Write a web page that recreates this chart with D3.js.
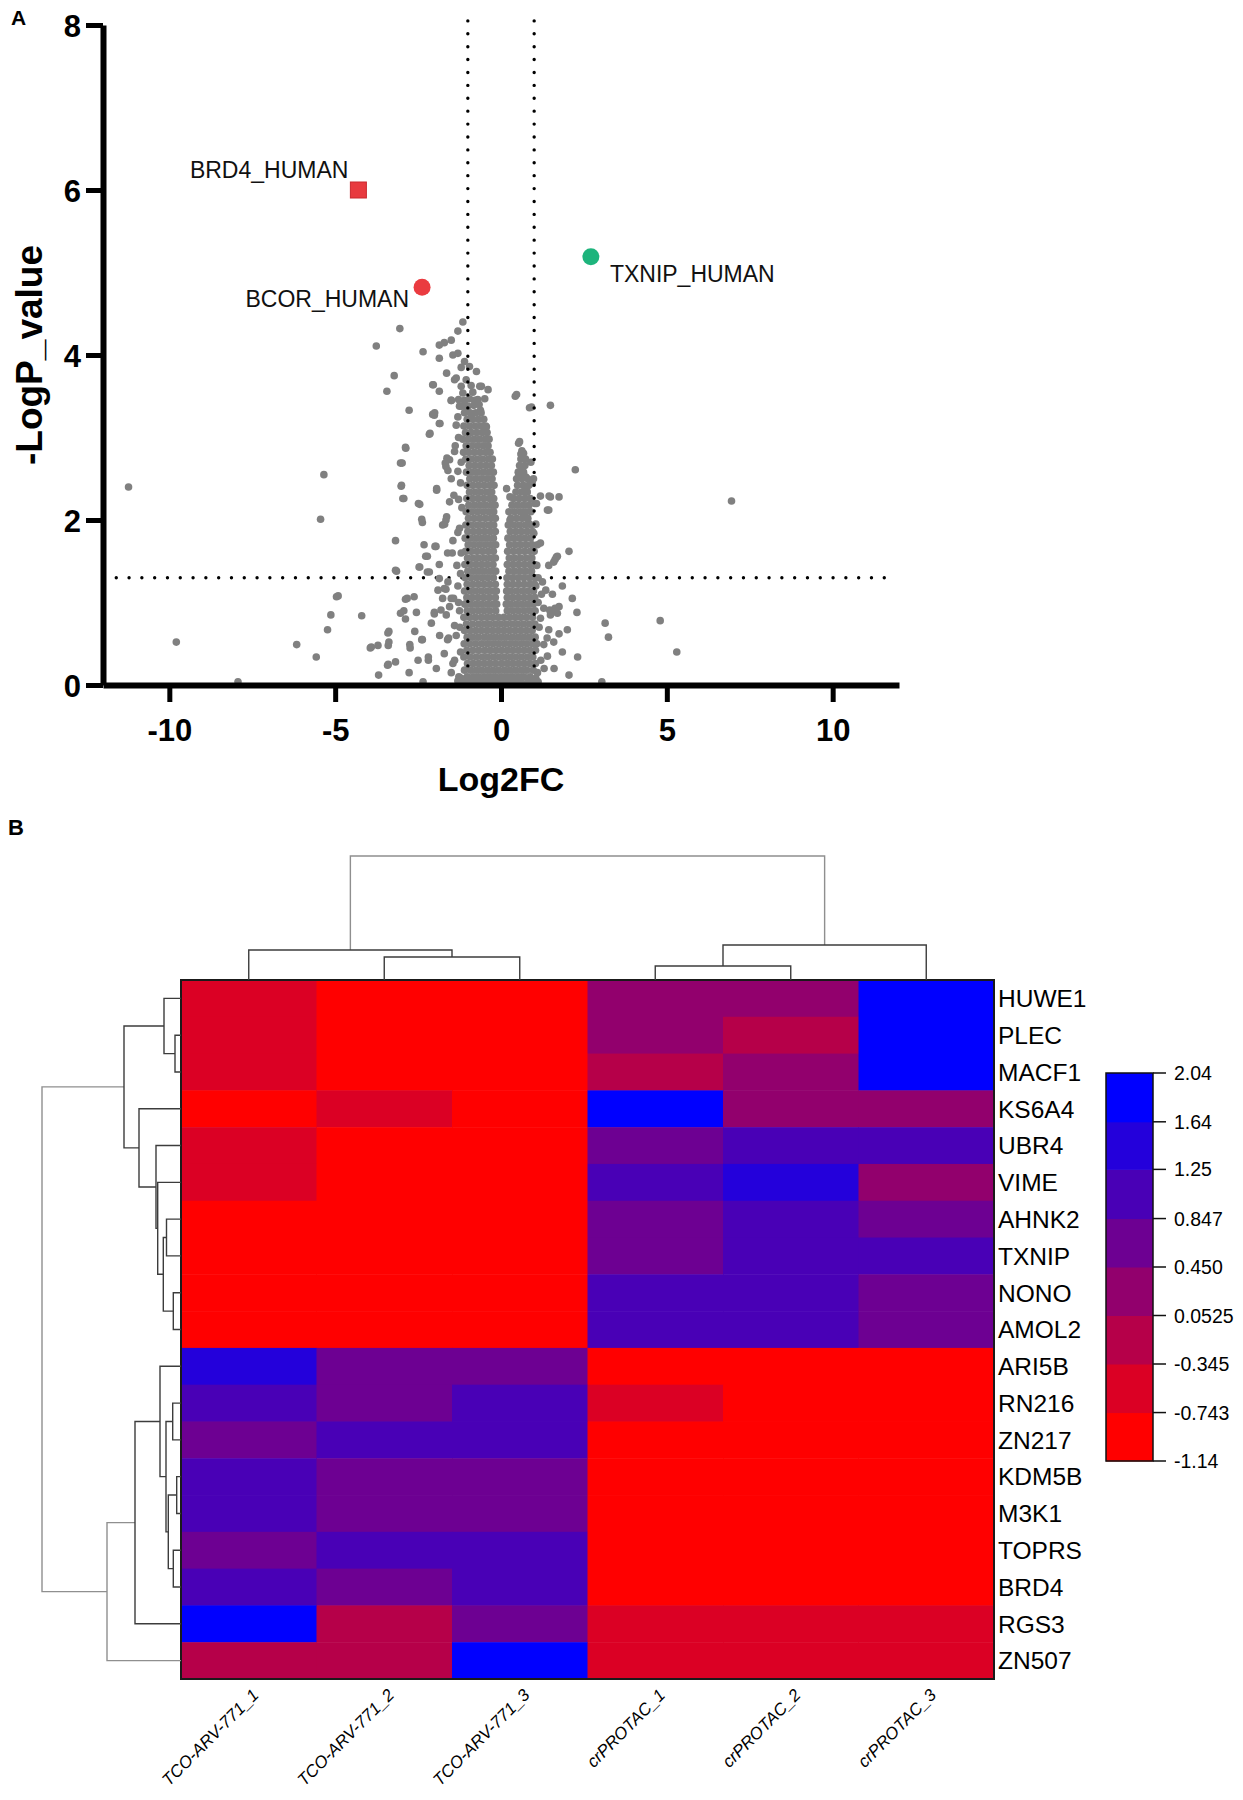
<!DOCTYPE html>
<html><head><meta charset="utf-8">
<script src="https://cdn.jsdelivr.net/npm/d3@7"></script>
<style>
body{margin:0;background:#fff}
svg{display:block}
text{font-family:Arial,"Liberation Sans",sans-serif}
</style>
</head><body>
<svg id="chart" width="1243" height="1800"></svg>
<script>
// ---------------- Volcano plot data ----------------
const xTicks = [-10, -5, 0, 5, 10];
const yTicks = [0, 2, 4, 6, 8];
const fcThresholds = [-1, 1];
const pThreshold = 1.3;

const highlighted = [
  {name: "BRD4_HUMAN", fc: -4.30, p: 6.00, shape: "square", color: "#e83a3f", side: "left"},
  {name: "BCOR_HUMAN", fc: -2.38, p: 4.82, shape: "circle", color: "#ea3b40", side: "leftBelow"},
  {name: "TXNIP_HUMAN", fc: 2.71, p: 5.19, shape: "circle", color: "#1db47c", side: "right"}
];

// scattered proteins [log2FC, -logP]
const scatterPoints = [
 [-11.23,2.40],[-9.79,0.52],[-7.93,0.04],[-5.34,2.55],[-5.44,2.01],[-6.16,0.49],[-5.57,0.34],[-4.96,1.07],[-5.13,0.85],[-5.23,0.67],[-4.20,0.84],
 [-3.44,3.56],[-2.77,3.33],[-2.87,2.87],[-2.98,2.69],[-3.01,2.41],[-2.96,2.26],[-3.18,1.75],[-3.15,1.38],[-2.88,1.04],[-2.62,1.07],[-2.93,0.90],[-2.88,0.80],[-2.55,0.88],[-3.41,0.63],[-3.38,0.52],[-3.94,0.45],[-3.71,0.48],[-3.42,0.24],[-3.18,0.28],[-3.69,0.12],[-2.75,0.49],[-2.74,0.45],[-2.39,0.55],[-2.19,0.34],[-2.77,0.15],[-2.35,0.04],
 [-2.45,2.19],[-2.39,2.01],[-2.37,1.97],[-2.32,1.70],[-1.99,1.68],[-2.22,1.56],[-2.45,1.43],[-2.16,1.37],[-1.86,1.46],[-1.86,1.29],
 [-2.06,3.28],[-1.84,3.17],[-2.14,3.05],[-1.86,3.56],[-2.06,3.64],[-1.50,3.45],[-1.94,2.38],[-1.55,2.22],[-1.64,2.04],[-1.76,1.94],[-1.66,2.65],[-1.55,2.73],[-1.47,1.60],[-1.66,1.16],[-1.76,1.05],[-1.81,0.91],[-2.01,0.88],[-1.58,0.57],[-1.71,0.38],[-1.45,0.26],[-1.27,0.10],
 [-1.15,4.40],[-1.30,4.29],[-1.50,4.18],[-1.71,4.15],[-1.86,4.12],[-1.30,4.02],[-1.10,3.92],[-1.86,3.96],[-2.35,4.04],[-3.05,4.32],[-3.76,4.11],[-3.22,3.75],
 [-1.64,3.78],[-1.35,3.72],[-1.05,3.70],[-0.74,3.80],[-0.59,3.62],[-0.39,3.58],[-0.49,3.47],[-0.79,3.45],[-1.10,3.45],[-1.50,3.45],[-2.04,3.64],[-0.64,3.62],
 [-1.05,3.37],[-0.89,3.25],[-1.35,3.15],[-0.44,3.13],[-2.01,3.27],[-1.86,3.17],[-2.16,3.04],[-1.25,3.38],[-0.62,3.33],
 [0.43,3.50],[0.86,3.36],[1.49,3.39],[0.53,2.93],[0.68,2.81],[0.63,2.65],[0.56,2.52],[0.94,2.45],[0.78,2.34],[0.17,2.38],[0.27,2.28],[1.19,2.29],[1.49,2.28],[1.75,2.28],[1.44,2.12],[1.07,2.20],[2.24,2.61],[0.27,2.00],[0.68,2.04],[0.83,1.96],[0.99,1.84],[1.19,1.72],[2.05,1.62],[1.70,1.56],[1.59,1.49],[1.44,1.45],
 [1.29,0.93],[1.49,0.89],[1.75,0.95],[2.29,0.88],[1.49,0.85],[1.19,0.81],[2.00,0.67],[1.75,0.62],[1.44,0.67],[1.39,0.57],[1.59,0.52],[1.29,0.49],[2.31,0.34],[2.05,0.12],[3.14,0.75],[3.24,0.58],[3.04,0.04],
 [6.95,2.23],[4.80,0.78],[5.30,0.40],
 [0.47,3.52],[0.92,3.37],[0.56,2.95],[0.60,2.80],[0.54,2.55],[0.75,2.52],[0.72,2.41],[0.77,2.38],
 [1.45,2.29],[1.40,2.12],[1.63,1.52],[1.67,1.55],[1.63,0.93],[1.47,0.91],[1.70,0.87],
 [-4.91,1.08],[-2.83,1.05],[-3.03,0.87],[-2.01,0.86],[-1.65,0.85],[-3.38,0.65],[-3.91,0.46],[-3.40,0.48],[-2.37,0.55],[-2.19,0.30],[-3.40,0.25],[-1.61,0.55],[-1.40,0.72],[-1.50,1.05],[-1.71,1.17],[-1.43,1.05],
 [-3.18,1.39],[-2.49,2.20],[-2.27,1.56],[-1.96,1.68],[-2.47,1.43],[-2.22,1.37],[-1.61,1.60],[-1.66,2.00],[-1.70,1.95],[-1.94,2.36],[-2.93,2.26],[-3.00,2.42],[-3.03,2.69],[-2.88,2.88],[-2.00,3.30],[-1.68,2.69],[-1.63,2.75],[-1.40,2.83],[-1.30,2.59],[-1.50,2.50],[-1.60,2.60],
 [1.05,1.20],[1.12,1.00],[1.22,1.10],[1.15,0.70],[1.08,0.50],[1.20,0.30],[1.10,0.15],[1.30,0.20],[1.25,1.25],[1.35,1.15],
 [-1.30,1.20],[-1.25,0.90],[-1.35,0.60],[-1.22,0.40],[-1.40,0.30],[-1.30,0.05],[-1.50,0.15],[-1.24,0.70],[-1.28,1.00],[-1.33,1.45],[-1.30,1.85],[-1.28,2.25],
 [-1.22,1.35],[-1.20,1.60],[-1.25,1.90],[-1.18,2.15],[-1.22,2.45],[-1.20,2.70],[-1.28,3.00],[-1.30,3.25],[-1.38,2.90],[-1.42,2.30],[-1.45,1.75],
 [-1.18,3.38],[-1.00,3.38],[-0.82,3.39],[-0.66,3.40],[-1.28,3.46],[-0.95,3.47],[-0.70,3.46],[-1.15,3.54],[-0.85,3.55],[-1.20,3.62],[-0.90,3.63],[-1.40,3.70],[-1.20,3.85],[-0.95,3.86],[-1.45,4.00],
 [1.08,1.45],[1.10,1.70],[1.05,1.95],[1.02,2.20],[0.98,2.50],[0.90,2.70],[1.12,1.30],
 [-1.10,0.03],[-1.25,0.04],[0.97,0.03],[1.12,0.04],[-1.20,0.08],[1.05,0.08],
 [-1.95,0.20],[-1.85,0.60],[-2.10,0.75],[-1.55,0.95],[-1.60,1.25],[-2.60,0.65],[-2.50,0.30],[-1.90,1.15],
 [1.85,0.40],[1.60,0.20],[1.55,1.10],[1.85,1.20],[2.15,1.05],[1.40,0.35]
];

// dense core, read row by row: [ -logP, [log2FC values] ]
const coreLowerRows = [
 [0.03, [-0.93,-0.76,-0.58,-0.41,-0.24,-0.07,0.10,0.27,0.44,0.61,0.80]],
 [0.10, [-1.02,-0.84,-0.67,-0.50,-0.33,-0.16,0.01,0.18,0.35,0.52,0.69,0.88]],
 [0.18, [-1.10,-0.92,-0.75,-0.58,-0.41,-0.24,-0.07,0.10,0.27,0.44,0.61,0.78,0.97]],
 [0.26, [-1.01,-0.84,-0.67,-0.50,-0.33,-0.16,0.02,0.19,0.36,0.53,0.70,0.87,1.04]],
 [0.34, [-1.12,-0.93,-0.75,-0.57,-0.40,-0.23,-0.06,0.11,0.28,0.45,0.62,0.79,0.96]],
 [0.42, [-1.03,-0.85,-0.67,-0.49,-0.32,-0.15,0.02,0.19,0.36,0.53,0.70,0.87,1.04]],
 [0.50, [-1.11,-0.94,-0.76,-0.58,-0.41,-0.24,-0.07,0.10,0.27,0.44,0.61,0.78,0.95]],
 [0.58, [-1.02,-0.85,-0.68,-0.50,-0.33,-0.16,0.01,0.18,0.35,0.52,0.69,0.86,1.03]],
 [0.66, [-1.10,-0.93,-0.76,-0.59,-0.42,-0.25,-0.08,0.09,0.26,0.43,0.60,0.77,0.94]],
 [0.74, [-1.04,-0.86,-0.68,-0.51,-0.34,-0.17,0.00,0.17,0.34,0.51,0.68,0.85,1.02]],
 [0.82, [-1.12,-0.94,-0.77,-0.59,-0.42,-0.25,-0.08,0.09,0.26,0.43,0.60,0.77,0.95]],
 [0.90, [-1.02,-0.85,-0.68,-0.51,-0.34,-0.16,0.19,0.36,0.53,0.70,0.87,1.03]],
 [0.98, [-1.09,-0.92,-0.75,-0.58,-0.41,-0.24,-0.13,0.16,0.29,0.46,0.63,0.80,0.97]],
 [1.06, [-1.03,-0.86,-0.69,-0.52,-0.35,-0.17,0.19,0.36,0.53,0.70,0.87,1.02]],
 [1.14, [-1.10,-0.93,-0.76,-0.59,-0.42,-0.25,-0.14,0.17,0.30,0.47,0.64,0.81,0.98]],
 [1.22, [-1.02,-0.85,-0.68,-0.51,-0.34,-0.17,0.19,0.36,0.53,0.70,0.87,1.01]]
];
const coreLeftArmRows = [
 [1.30, [-1.08,-0.91,-0.74,-0.57,-0.40,-0.23]],
 [1.38, [-1.00,-0.83,-0.66,-0.49,-0.32,-0.16]],
 [1.46, [-1.09,-0.92,-0.75,-0.58,-0.41,-0.24]],
 [1.54, [-1.01,-0.84,-0.67,-0.50,-0.33,-0.17]],
 [1.62, [-1.07,-0.90,-0.73,-0.56,-0.39,-0.23]],
 [1.70, [-0.99,-0.82,-0.65,-0.48,-0.31,-0.16]],
 [1.78, [-1.08,-0.91,-0.74,-0.57,-0.40,-0.23]],
 [1.86, [-1.00,-0.83,-0.66,-0.49,-0.32,-0.17]],
 [1.94, [-1.06,-0.89,-0.72,-0.55,-0.38,-0.22]],
 [2.02, [-0.98,-0.81,-0.64,-0.47,-0.30,-0.17]],
 [2.10, [-1.05,-0.88,-0.71,-0.54,-0.37,-0.22]],
 [2.18, [-0.97,-0.80,-0.63,-0.46,-0.29,-0.18]],
 [2.26, [-1.03,-0.86,-0.69,-0.52,-0.35,-0.22]],
 [2.34, [-0.95,-0.78,-0.61,-0.44,-0.28]],
 [2.42, [-1.02,-0.85,-0.68,-0.51,-0.34,-0.21]],
 [2.50, [-0.94,-0.77,-0.60,-0.43,-0.27]],
 [2.58, [-1.04,-0.87,-0.70,-0.53,-0.36,-0.23]],
 [2.66, [-0.96,-0.79,-0.62,-0.45,-0.29]],
 [2.74, [-1.06,-0.89,-0.72,-0.55,-0.38,-0.26]],
 [2.82, [-1.13,-0.97,-0.80,-0.63,-0.46,-0.33]],
 [2.90, [-1.05,-0.88,-0.71,-0.54,-0.39]],
 [2.98, [-1.15,-0.98,-0.81,-0.64,-0.47,-0.36]],
 [3.06, [-1.07,-0.90,-0.73,-0.56,-0.42]],
 [3.14, [-1.12,-0.95,-0.78,-0.61,-0.46]],
 [3.22, [-1.02,-0.85,-0.68,-0.52]],
 [3.30, [-1.10,-0.93,-0.76,-0.60]]
];
const coreRightArmRows = [
 [1.30, [0.18,0.35,0.52,0.69,0.86,1.02]],
 [1.38, [0.24,0.41,0.58,0.75,0.92]],
 [1.46, [0.19,0.36,0.53,0.70,0.87,1.01]],
 [1.54, [0.25,0.42,0.59,0.76,0.93]],
 [1.62, [0.20,0.37,0.54,0.71,0.88,1.00]],
 [1.70, [0.26,0.43,0.60,0.77,0.94]],
 [1.78, [0.21,0.38,0.55,0.72,0.89]],
 [1.86, [0.28,0.45,0.62,0.79,0.95]],
 [1.94, [0.22,0.39,0.56,0.73,0.90]],
 [2.02, [0.30,0.47,0.64,0.81]],
 [2.10, [0.24,0.41,0.58,0.75,0.90]],
 [2.18, [0.33,0.50,0.67,0.84]],
 [2.26, [0.38,0.55,0.72,0.88]],
 [2.34, [0.45,0.62,0.79]],
 [2.42, [0.50,0.67,0.84]],
 [2.50, [0.47,0.63,0.80]],
 [2.58, [0.52,0.68]],
 [2.66, [0.56,0.72]],
 [2.74, [0.60,0.74]],
 [2.84, [0.63]]
];

// ---------------- Heatmap data ----------------
const genes = ["HUWE1","PLEC","MACF1","KS6A4","UBR4","VIME","AHNK2","TXNIP","NONO","AMOL2","ARI5B","RN216","ZN217","KDM5B","M3K1","TOPRS","BRD4","RGS3","ZN507"];
const samples = ["TCO-ARV-771_1","TCO-ARV-771_2","TCO-ARV-771_3","crPROTAC_1","crPROTAC_2","crPROTAC_3"];
const zScores = [
 [-0.52,-0.98,-1.02, 0.22, 0.28, 1.92],
 [-0.55,-1.01,-0.97, 0.21,-0.12, 1.95],
 [-0.50,-0.99,-1.03,-0.14, 0.24, 1.90],
 [-0.96,-0.58,-0.95, 1.98, 0.27, 0.19],
 [-0.53,-0.99,-1.00, 0.63, 1.02, 0.98],
 [-0.56,-0.97,-1.01, 1.08, 1.50, 0.23],
 [-0.95,-1.00,-0.98, 0.70, 1.01, 0.66],
 [-0.93,-0.99,-1.04, 0.68, 1.06, 1.03],
 [-0.96,-1.02,-0.97, 1.04, 1.07, 0.62],
 [-0.94,-0.98,-1.01, 1.10, 1.03, 0.59],
 [ 1.52, 0.64, 0.61,-0.99,-1.02,-0.96],
 [ 1.08, 0.69, 1.01,-0.57,-0.98,-1.01],
 [ 0.60, 1.04, 1.09,-0.97,-1.00,-0.99],
 [ 1.02, 0.66, 0.71,-0.95,-1.01,-0.98],
 [ 1.06, 0.63, 0.68,-0.99,-0.96,-1.03],
 [ 0.67, 1.00, 1.07,-1.00,-0.97,-1.02],
 [ 1.03, 0.62, 1.05,-0.98,-1.04,-0.95],
 [ 1.88,-0.13, 0.58,-0.55,-0.53,-0.56],
 [-0.16,-0.11, 1.95,-0.52,-0.54,-0.51]
];
const legendTicks = [-1.14, -0.743, -0.345, 0.0525, 0.450, 0.847, 1.25, 1.64, 2.04];
const legendLabels = ["-1.14","-0.743","-0.345","0.0525","0.450","0.847","1.25","1.64","2.04"];

// dendrograms: [height, left, right]
const rowTree = [13.9,
  [5.7,
    [1.7, "HUWE1", [0.6, "PLEC", "MACF1"]],
    [4.2, "KS6A4",
      [2.5, "UBR4",
        [2.33, "VIME",
          [1.77, [1.45, "AHNK2", "TXNIP"], [0.77, "NONO", "AMOL2"]]]]]],
  [7.4,
    [4.6,
      [2.1, "ARI5B",
        [1.5, [0.83, "RN216", "ZN217"],
              [1.27, [0.43, "KDM5B", "M3K1"], [0.77, "TOPRS", "BRD4"]]]],
      "RGS3"],
    "ZN507"]];
const colTree = [12.4,
  [3.0, "TCO-ARV-771_1", [2.3, "TCO-ARV-771_2", "TCO-ARV-771_3"]],
  [3.5, [1.4, "crPROTAC_1", "crPROTAC_2"], "crPROTAC_3"]];

// ================= drawing =================
const svg = d3.select("#chart");

// ---- Panel A: volcano ----
const x = d3.scaleLinear().domain([-12, 12]).range([103, 899]);
const y = d3.scaleLinear().domain([0, 8]).range([685, 25]);

svg.append("text").attr("x", 11).attr("y", 25).attr("font-size", 21).attr("font-weight", "bold").text("A");

// horizontal threshold (under points)
svg.append("line")
  .attr("x1", x(-11.6)).attr("x2", x(11.8)).attr("y1", y(pThreshold)).attr("y2", y(pThreshold))
  .attr("stroke", "#000").attr("stroke-width", 3.4).attr("stroke-linecap", "round").attr("stroke-dasharray", "0 12.8");

const corePoints = [...coreLowerRows, ...coreLeftArmRows, ...coreRightArmRows]
  .flatMap(([py, xs]) => xs.map(px => [px, py]));
const allGray = scatterPoints.concat(corePoints);

svg.append("g").selectAll("circle").data(allGray).join("circle")
  .attr("cx", d => x(d[0])).attr("cy", d => y(d[1])).attr("r", 3.8)
  .attr("fill", "#808080");

// vertical thresholds
svg.append("g").selectAll("line").data(fcThresholds).join("line")
  .attr("x1", d => x(d)).attr("x2", d => x(d)).attr("y1", y(8.05)).attr("y2", y(0.1))
  .attr("stroke", "#000").attr("stroke-width", 3.4).attr("stroke-linecap", "round").attr("stroke-dasharray", "0 12.9");

// axes
const fmt = d => String(d);
const yAxis = svg.append("g").attr("transform", `translate(${x(-12)},0)`)
  .call(d3.axisLeft(y).tickValues(yTicks).tickFormat(fmt).tickSize(17).tickSizeOuter(0).tickPadding(5));
const xAxis = svg.append("g").attr("transform", `translate(0,${y(0)})`)
  .call(d3.axisBottom(x).tickValues(xTicks).tickFormat(fmt).tickSize(17).tickSizeOuter(0).tickPadding(17));
[yAxis, xAxis].forEach(g => {
  g.select(".domain").attr("stroke", "#000").attr("stroke-width", 6);
  g.selectAll(".tick line").attr("stroke", "#000").attr("stroke-width", 5);
  g.selectAll(".tick text").attr("font-size", 31).attr("font-weight", "bold").attr("fill", "#000")
    .attr("font-family", "Arial, 'Liberation Sans', sans-serif");
});
yAxis.selectAll(".tick text").attr("dy", "0.36em");

svg.append("text").attr("x", x(0)).attr("y", 791).attr("text-anchor", "middle")
  .attr("font-size", 34).attr("font-weight", "bold").text("Log2FC");
svg.append("text").attr("transform", `translate(42,${y(4)}) rotate(-90)`).attr("text-anchor", "middle")
  .attr("font-size", 37).attr("font-weight", "bold").text("-LogP_value");

// highlighted proteins
const hl = svg.append("g");
highlighted.forEach(h => {
  const cx = x(h.fc), cy = y(h.p);
  if (h.shape === "square") {
    hl.append("rect").attr("x", cx - 8).attr("y", cy - 8).attr("width", 16).attr("height", 16)
      .attr("fill", h.color).attr("stroke", "#c9292f").attr("stroke-width", 1);
  } else {
    hl.append("circle").attr("cx", cx).attr("cy", cy).attr("r", 8.5).attr("fill", h.color);
  }
  const t = hl.append("text").attr("font-size", 23).attr("fill", "#111").text(h.name);
  if (h.side === "left") t.attr("x", cx - 10).attr("y", cy - 12).attr("text-anchor", "end");
  else if (h.side === "leftBelow") t.attr("x", cx - 13).attr("y", cy + 20).attr("text-anchor", "end");
  else t.attr("x", cx + 19).attr("y", cy + 25).attr("text-anchor", "start");
});

// ---- Panel B: heatmap ----
svg.append("text").attr("x", 8).attr("y", 835).attr("font-size", 22).attr("font-weight", "bold").text("B");

const hx = d3.scaleBand().domain(samples).range([181, 994]);
const hy = d3.scaleBand().domain(genes).range([980, 1679]);
const bandColors = d3.quantize(d3.interpolateRgb("#ff0000", "#0000ff"), 8);
const color = d3.scaleQuantize().domain([legendTicks[0], legendTicks[legendTicks.length - 1]]).range(bandColors);

const cells = genes.flatMap((g, i) => samples.map((s, j) => ({g, s, v: zScores[i][j]})));
svg.append("g").selectAll("rect").data(cells).join("rect")
  .attr("x", d => hx(d.s)).attr("y", d => hy(d.g))
  .attr("width", hx.bandwidth() + 0.5).attr("height", hy.bandwidth() + 0.5)
  .attr("fill", d => color(d.v));
svg.append("rect").attr("x", 181).attr("y", 980).attr("width", 813).attr("height", 699)
  .attr("fill", "none").attr("stroke", "#1a1a1a").attr("stroke-width", 2);

// row labels
svg.append("g").selectAll("text").data(genes).join("text")
  .attr("x", 998).attr("y", d => hy(d) + hy.bandwidth() / 2).attr("dy", "0.36em")
  .attr("font-size", 24.5).attr("fill", "#000").text(d => d);

// column labels
svg.append("g").selectAll("text").data(samples).join("text")
  .attr("transform", d => `translate(${hx(d) + hx.bandwidth() / 2 + 11},${1679 + 17}) rotate(-45)`)
  .attr("text-anchor", "end").attr("font-size", 17).attr("font-style", "italic").attr("fill", "#000")
  .text(d => d);

// dendrograms
function layout(node, pos, hs) {
  if (typeof node === "string") return {p: pos(node), h: hs(0)};
  const A = layout(node[1], pos, hs), B = layout(node[2], pos, hs);
  return {p: (A.p + B.p) / 2, h: hs(node[0]), d: node[0], kids: [A, B]};
}
function collect(n, out) { if (n.kids) { out.push(n); n.kids.forEach(k => collect(k, out)); } return out; }

const rowH = d3.scaleLinear().domain([0, 14]).range([181, 41]);
const rowRoot = layout(rowTree, g => hy(g) + hy.bandwidth() / 2, rowH);
svg.append("g").selectAll("path").data(collect(rowRoot, [])).join("path")
  .attr("d", n => { const [A, B] = n.kids; return `M${A.h},${A.p}H${n.h}V${B.p}H${B.h}`; })
  .attr("fill", "none").attr("stroke", n => n.d > 7 ? "#8f8f8f" : "#3c3c3c").attr("stroke-width", 1.4);

const colH = d3.scaleLinear().domain([0, 12.4]).range([980, 856]);
const colRoot = layout(colTree, s => hx(s) + hx.bandwidth() / 2, colH);
svg.append("g").selectAll("path").data(collect(colRoot, [])).join("path")
  .attr("d", n => { const [A, B] = n.kids; return `M${A.p},${A.h}V${n.h}H${B.p}V${B.h}`; })
  .attr("fill", "none").attr("stroke", n => n.d > 7 ? "#8f8f8f" : "#3c3c3c").attr("stroke-width", 1.4);

// colour legend
const ly = d3.scaleLinear().domain([legendTicks[0], legendTicks[legendTicks.length - 1]]).range([1461, 1073]);
const leg = svg.append("g");
leg.selectAll("rect").data(d3.pairs(legendTicks)).join("rect")
  .attr("x", 1106).attr("width", 47)
  .attr("y", d => ly(d[1])).attr("height", d => ly(d[0]) - ly(d[1]) + 0.5)
  .attr("fill", d => color((d[0] + d[1]) / 2));
leg.append("rect").attr("x", 1106).attr("y", ly(2.04)).attr("width", 47).attr("height", ly(-1.14) - ly(2.04))
  .attr("fill", "none").attr("stroke", "#111").attr("stroke-width", 1.5);
leg.selectAll("line").data(legendTicks).join("line")
  .attr("x1", 1153).attr("x2", 1166).attr("y1", d => ly(d)).attr("y2", d => ly(d))
  .attr("stroke", "#111").attr("stroke-width", 1.5);
leg.selectAll("text").data(legendTicks).join("text")
  .attr("x", 1174).attr("y", d => ly(d)).attr("dy", "0.36em").attr("font-size", 19.5).attr("fill", "#000")
  .text((d, i) => legendLabels[i]);
</script>
</body></html>
